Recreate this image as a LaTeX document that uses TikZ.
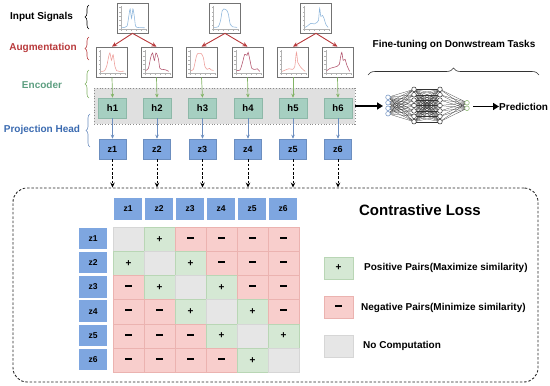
\documentclass[tikz,border=0pt]{standalone}
\usepackage{fontspec}
\setmainfont{Liberation Sans}
\usetikzlibrary{arrows.meta,decorations.pathreplacing,calc}
\definecolor{redc}{HTML}{B8393B}
\definecolor{greenc}{HTML}{82B366}
\definecolor{greentext}{HTML}{5C9E80}
\definecolor{bluec}{HTML}{6C8EBF}
\definecolor{bluetext}{HTML}{3A6AB0}
\definecolor{hfill}{HTML}{A6CFC1}
\definecolor{hdraw}{HTML}{8DB8A8}
\definecolor{zfill}{HTML}{7EA6E0}
\definecolor{zdraw}{HTML}{6C8EBF}
\definecolor{pfill}{HTML}{D5E8D4}
\definecolor{pdraw}{HTML}{B9D6B5}
\definecolor{nfill}{HTML}{F8CECC}
\definecolor{ndraw}{HTML}{EBB3B0}
\definecolor{gfill}{HTML}{E6E6E6}
\definecolor{gdraw}{HTML}{D6D6D6}
\definecolor{sigblue}{HTML}{8DB6DC}
\definecolor{siglight}{HTML}{EE9C98}
\definecolor{sigdark}{HTML}{B0506A}
\newcommand{\sigcurve}[3]{%
  \begin{scope}[shift={(#1.south west)}]
    \draw[black!30,line width=0.3pt] (4pt,27pt) -- (4pt,4pt) -- (29pt,4pt);
    \foreach \k in {0,...,5}{
      \draw[black!30,line width=0.3pt] (4pt,{4pt+\k*4.4pt}) -- ++(-1.2pt,0pt);
      \draw[black!30,line width=0.3pt] ({4pt+\k*5pt},4pt) -- ++(0pt,-1.2pt);
    }
    \begin{scope}[shift={(5pt,5pt)},x=23pt,y=20pt]
      \draw[#2,line width=0.55pt] plot[smooth,tension=0.45] coordinates {#3};
    \end{scope}
  \end{scope}}
\newcommand{\mminus}{\rule[2.6pt]{7pt}{1.9pt}}
\begin{document}
\begin{tikzpicture}[x=1pt,y=-1pt,font=\bfseries,
  lbl/.style={font=\bfseries\fontsize{10}{12}\selectfont,inner sep=0pt},
  sigbox/.style={draw=black!55,line width=0.7pt,fill=white,minimum width=31pt,minimum height=30pt,inner sep=0pt},
  hbox/.style={draw=hdraw,fill=hfill,line width=0.5pt,minimum width=28pt,minimum height=20pt,inner sep=0pt,font=\bfseries\fontsize{9.5}{10}\selectfont},
  zbox/.style={draw=zdraw,fill=zfill,line width=0.5pt,minimum width=27pt,minimum height=20pt,inner sep=0pt,font=\bfseries\fontsize{9}{10}\selectfont},
  tzbox/.style={fill=zfill,minimum width=28pt,minimum height=21.5pt,inner sep=0pt,font=\bfseries\fontsize{8.5}{10}\selectfont},
  cellbox/.style={minimum width=31pt,minimum height=24.2pt,inner sep=0pt,line width=0.5pt,font=\bfseries\fontsize{10}{10}\selectfont},
  lgbox/.style={minimum width=29pt,minimum height=22pt,inner sep=0pt,line width=0.5pt,font=\bfseries\fontsize{10}{10}\selectfont},
  bracec/.style={decorate,decoration={brace,amplitude=4pt},line width=0.6pt},
  redarrow/.style={draw=redc,line width=0.9pt,-{Stealth[length=5pt,width=4.5pt]}},
  greenarrow/.style={draw=greenc,line width=0.7pt,-{Stealth[length=4pt,width=3.5pt]}},
  bluearrow/.style={draw=bluec,line width=0.7pt,-{Stealth[length=4pt,width=3.5pt]}},
  dasharrow/.style={draw=black,line width=0.9pt,dash pattern=on 2.5pt off 1.8pt,-{Stealth[length=5pt,width=4.5pt]}},
  bigarrow/.style={draw=black,line width=1.6pt,-{Triangle[length=6pt,width=7pt]}},
  neuron/.style={circle,draw=#1,fill=white,line width=0.5pt,minimum size=4.6pt,inner sep=0pt},
  link/.style={draw=black!80,line width=0.25pt}
]
\useasboundingbox (0,0) rectangle (550,386);

% ---- side labels and braces
\node[lbl] (lin) at (41.5,17) {Input Signals};
\node[lbl,text=redc] (laug) at (43,48) {Augmentation};
\node[lbl,text=greentext] (lenc) at (42,85) {Encoder};
\node[lbl,text=bluetext] (lproj) at (42,130) {Projection Head};
\draw[bracec,black] (89,29) -- (89,5);
\draw[bracec,redc] (89,60) -- (89,37);
\draw[bracec,greenc] (89,98) -- (89,70);
\draw[bracec,bluec] (90,147) -- (90,114);

% ---- encoder band
\node[draw=black!45,dotted,line width=0.8pt,fill=black!12,minimum width=261pt,minimum height=36pt,inner sep=0pt] (band) at (224.5,106) {};

% ---- input signals
\node[sigbox] (in1) at (132.5,18) {};
\node[sigbox] (in2) at (225,18) {};
\node[sigbox] (in3) at (316,18) {};
\sigcurve{in1}{sigblue}{(0,0.03) (0.14,0.05) (0.24,0.12) (0.31,0.6) (0.37,0.97) (0.43,0.5) (0.49,0.97) (0.55,0.6) (0.61,0.1) (0.75,0.04) (1,0.03)}
\sigcurve{in2}{sigblue}{(0,0.05) (0.18,0.08) (0.28,0.4) (0.35,0.88) (0.42,0.97) (0.55,0.9) (0.62,0.7) (0.7,0.2) (0.8,0.08) (1,0.05)}
\sigcurve{in3}{sigblue}{(0,0.05) (0.1,0.12) (0.25,0.25) (0.4,0.22) (0.52,0.3) (0.58,0.4) (0.63,1.0) (0.68,0.6) (0.75,0.65) (0.82,0.5) (0.9,0.2) (1,0.05)}

% ---- augmentations
\foreach \i/\x in {1/112,2/156.5,3/201.5,4/247.5,5/293,6/337.5}{
  \node[sigbox] (a\i) at (\x,62) {};
}
\sigcurve{a1}{siglight}{(0,0.05) (0.15,0.08) (0.25,0.35) (0.32,0.75) (0.38,0.97) (0.45,0.6) (0.52,0.88) (0.6,0.3) (0.68,0.08) (0.8,0.05) (1,0.06)}
\sigcurve{a2}{sigdark}{(0,0.1) (0.12,0.2) (0.22,0.75) (0.3,0.97) (0.38,0.6) (0.45,0.97) (0.55,0.7) (0.62,0.2) (0.75,0.15) (0.88,0.12) (1,0.05)}
\sigcurve{a3}{siglight}{(0,0.1) (0.12,0.15) (0.25,0.8) (0.32,0.95) (0.45,0.95) (0.55,0.75) (0.62,0.3) (0.72,0.15) (0.82,0.2) (0.9,0.12) (1,0.1)}
\sigcurve{a4}{sigdark}{(0,0.1) (0.15,0.12) (0.28,0.6) (0.35,0.9) (0.45,0.85) (0.5,1.0) (0.58,0.6) (0.66,0.2) (0.8,0.15) (0.9,0.18) (1,0.05)}
\sigcurve{a5}{siglight}{(0,0.05) (0.15,0.12) (0.3,0.18) (0.45,0.15) (0.55,0.3) (0.62,1.0) (0.68,0.5) (0.75,0.35) (0.85,0.2) (1,0.05)}
\sigcurve{a6}{sigdark}{(0,0.08) (0.15,0.2) (0.3,0.25) (0.45,0.3) (0.55,0.4) (0.62,0.85) (0.66,1.0) (0.72,0.6) (0.8,0.65) (0.88,0.35) (1,0.05)}

\draw[redarrow] (in1.south) -- (a1.north);
\draw[redarrow] (in1.south) -- (a2.north);
\draw[redarrow] (in2.south) -- (a3.north);
\draw[redarrow] (in2.south) -- (a4.north);
\draw[redarrow] (in3.south) -- (a5.north);
\draw[redarrow] (in3.south) -- (a6.north);

% ---- h and z
\foreach \i/\x in {1/112.5,2/157,3/202.5,4/248,5/293,6/338}{
  \node[hbox] (h\i) at (\x,108) {h\i};
  \node[zbox] (z\i) at (\x,149) {z\i};
  \draw[greenarrow] (a\i.south) -- (h\i.north);
  \draw[bluearrow] (h\i.south) -- (z\i.north);
}

% ---- contrastive loss box
\node[draw=black!85,line width=0.9pt,dash pattern=on 2.5pt off 1.8pt,rounded corners=14pt,minimum width=525pt,minimum height=194pt,inner sep=0pt] (loss) at (275.5,285) {};
\foreach \i in {1,...,6}{
  \draw[dasharrow] (z\i.south) -- (z\i.south |- loss.north);
}
\node[font=\bfseries\fontsize{15}{16}\selectfont] (title) at (420,210) {Contrastive Loss};

% ---- table headers
\foreach \i in {1,...,6}{
  \node[tzbox] (cz\i) at ({128+31*(\i-1)},209) {z\i};
  \node[tzbox] (rz\i) at (93,{238.5+24.2*(\i-1)}) {z\i};
}
% ---- table cells
\foreach \r in {1,...,6}{
  \foreach \c in {1,...,6}{
    \pgfmathtruncatemacro\dd{abs(\r-\c)}
    \ifnum\dd=0
      \node[cellbox,fill=gfill,draw=gdraw] (c\r\c) at ({128.5+31*(\c-1)},{239.1+24.2*(\r-1)}) {};
    \else\ifnum\dd=1
      \node[cellbox,fill=pfill,draw=pdraw] (c\r\c) at ({128.5+31*(\c-1)},{239.1+24.2*(\r-1)}) {+};
    \else
      \node[cellbox,fill=nfill,draw=ndraw] (c\r\c) at ({128.5+31*(\c-1)},{239.1+24.2*(\r-1)}) {\mminus};
    \fi\fi
  }
}

% ---- legend
\node[lgbox,fill=pfill,draw=pdraw] (lgp) at (338.5,268) {+};
\node[lgbox,fill=nfill,draw=ndraw] (lgn) at (338.5,307.5) {\mminus};
\node[lgbox,fill=gfill,draw=gdraw] (lgg) at (338.5,346) {};
\node[lbl,anchor=west] (tp) at (364,268) {Positive Pairs(Maximize similarity)};
\node[lbl,anchor=west] (tn) at (361,307.5) {Negative Pairs(Minimize similarity)};
\node[lbl,anchor=west] (tg) at (363,346) {No Computation};

% ---- fine-tuning
\node[lbl] (ft) at (454,45) {Fine-tuning on Donwstream Tasks};
\draw[bracec,black!80,decoration={brace,amplitude=7pt}] (368,75) -- (539,75);

% neural network
\foreach \j in {1,...,4}{ \coordinate (ni\j) at (388,{105.5+5.5*(\j-2.5)}); }
\foreach \j in {1,...,7}{ \coordinate (na\j) at (414,{105.5+5.4*(\j-4)}); }
\foreach \j in {1,...,7}{ \coordinate (nb\j) at (440,{105.5+5.4*(\j-4)}); }
\foreach \j in {1,2}{ \coordinate (no\j) at (467,{105.5+5.5*(\j-1.5)}); }
\foreach \p in {1,...,4}{\foreach \q in {1,...,7}{\draw[link] (ni\p) -- (na\q);}}
\foreach \p in {1,...,7}{\foreach \q in {1,...,7}{\draw[link] (na\p) -- (nb\q);}}
\foreach \p in {1,...,7}{\foreach \q in {1,2}{\draw[link] (nb\p) -- (no\q);}}
\foreach \j in {1,...,4}{ \node[neuron=bluec] (nni\j) at (ni\j) {}; }
\foreach \j in {1,...,7}{ \node[neuron=black!80] (nna\j) at (na\j) {}; \node[neuron=black!80] (nnb\j) at (nb\j) {}; }
\foreach \j in {1,2}{ \node[neuron=greenc] (nno\j) at (no\j) {}; }

\coordinate (nnin) at (383,106);
\draw[bigarrow] (band.east) -- (nnin);
\node[lbl,anchor=west] (pred) at (499,106.5) {Prediction};
\coordinate (nnout) at (473,106.5);
\draw[bigarrow] (nnout) -- (pred.west);
\end{tikzpicture}
\end{document}
